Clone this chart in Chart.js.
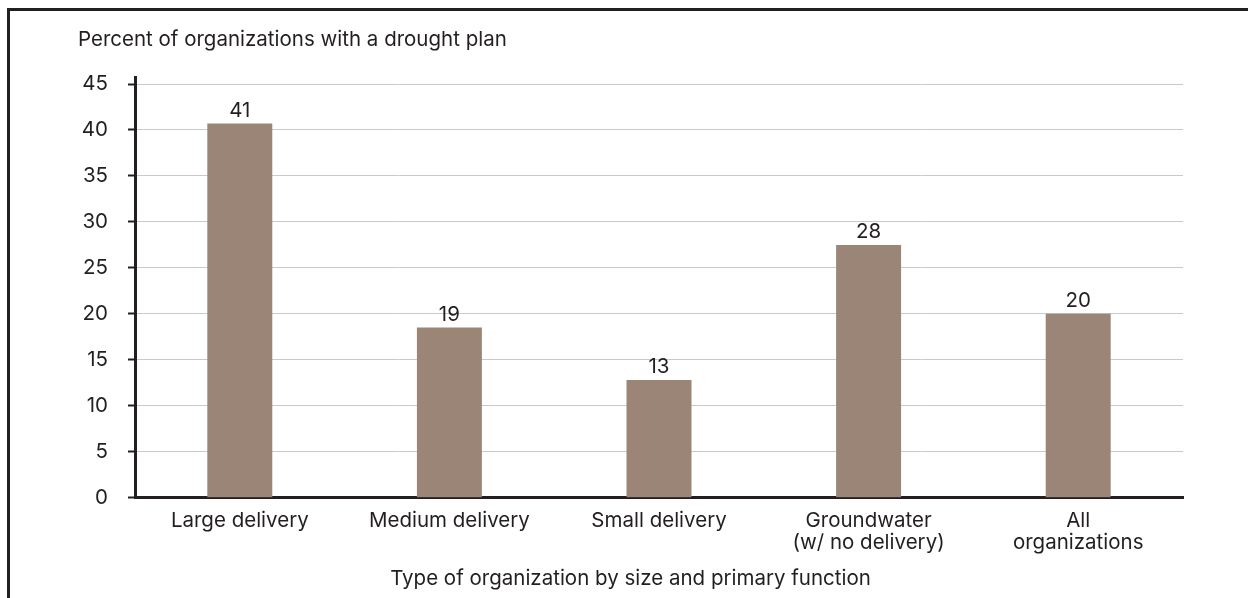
<!DOCTYPE html>
<html>
<head>
<meta charset="utf-8">
<script src="https://cdn.jsdelivr.net/npm/chart.js@4/dist/chart.umd.min.js"></script>
<style>
  html, body { margin: 0; padding: 0; background: #fff; overflow: hidden; width: 1248px; height: 598px; }
  #wrap { position: absolute; left: 0; top: 0; width: 1268px; height: 598px; }
  #frame { position: absolute; left: 7px; top: 8px; width: 2000px; height: 2000px; border: 3px solid #231f20; box-sizing: border-box; pointer-events: none; }
</style>
</head>
<body>
<div id="wrap"><canvas id="c" width="1268" height="598"></canvas></div>
<div id="frame"></div>
<script>
const categories = ['Large delivery', 'Medium delivery', 'Small delivery', ['Groundwater', '(w/ no delivery)'], ['All', 'organizations']];
const percentWithPlan = [40.7, 18.5, 12.8, 27.5, 20.0];
const yTicks = [0, 5, 10, 15, 20, 25, 30, 35, 40, 45];
const yTitle = 'Percent of organizations with a drought plan';
const xTitle = 'Type of organization by size and primary function';

const INK = '#231f20';
const FONT = 'Inter';
const FS = 20.5;
const AXIS_W = 3;

const valueLabels = {
  id: 'valueLabels',
  afterDatasetsDraw(chart) {
    const ctx = chart.ctx;
    const meta = chart.getDatasetMeta(0);
    ctx.save();
    ctx.font = FS + 'px ' + FONT;
    ctx.fillStyle = INK;
    ctx.textAlign = 'center';
    ctx.textBaseline = 'alphabetic';
    meta.data.forEach((bar, i) => {
      ctx.fillText(String(Math.round(chart.data.datasets[0].data[i])), bar.x, bar.y - 7);
    });
    ctx.restore();
  }
};

// the y axis line runs a little above its top tick, as in the source figure
const axisOvershoot = {
  id: 'axisOvershoot',
  afterDraw(chart) {
    const y = chart.scales.y;
    const ctx = chart.ctx;
    const half = AXIS_W / 2;
    const x = Math.round(y.right - half) + half;
    ctx.save();
    ctx.strokeStyle = INK;
    ctx.lineWidth = AXIS_W;
    ctx.beginPath();
    ctx.moveTo(x, y.top + 1);
    ctx.lineTo(x, y.top - 8);
    ctx.stroke();
    ctx.restore();
  }
};

new Chart(document.getElementById('c'), {
  type: 'bar',
  data: {
    labels: categories,
    datasets: [{
      data: percentWithPlan,
      backgroundColor: '#9b8577',
      borderWidth: 0,
      categoryPercentage: 1,
      barPercentage: 0.31
    }]
  },
  options: {
    responsive: false,
    animation: false,
    devicePixelRatio: 1,
    layout: { padding: { left: 78, right: 85, top: 0, bottom: 0 } },
    plugins: {
      legend: { display: false },
      tooltip: { enabled: false },
      title: {
        display: true,
        text: yTitle,
        align: 'start',
        color: INK,
        font: { family: FONT, size: FS, weight: 'normal', lineHeight: 1.2 },
        padding: { top: 27.7, bottom: 31.7 }
      },
      subtitle: {
        display: true,
        text: xTitle,
        position: 'bottom',
        align: 'center',
        color: INK,
        font: { family: FONT, size: FS, weight: 'normal', lineHeight: 1.2 },
        padding: { top: 0, bottom: 6.7 }
      }
    },
    scales: {
      x: {
        grid: { display: false, drawTicks: false },
        border: { display: true, color: INK, width: AXIS_W },
        ticks: {
          color: INK,
          padding: 13,
          maxRotation: 0,
          autoSkip: false,
          font: { family: FONT, size: FS, lineHeight: 1.03 }
        },
        afterFit(scale) { scale.height = 69; }
      },
      y: {
        min: 0,
        max: 45,
        afterBuildTicks(scale) { scale.ticks = yTicks.map(v => ({ value: v })); },
        grid: {
          color: '#c9c9c9',
          lineWidth: 1,
          drawTicks: true,
          tickLength: 7,
          tickColor: INK,
          tickWidth: 2
        },
        border: { display: true, color: INK, width: AXIS_W },
        ticks: {
          color: INK,
          padding: 20,
          font: { family: FONT, size: FS }
        },
        afterFit(scale) { scale.width = 57; }
      }
    }
  },
  plugins: [valueLabels, axisOvershoot]
});
</script>
</body>
</html>
